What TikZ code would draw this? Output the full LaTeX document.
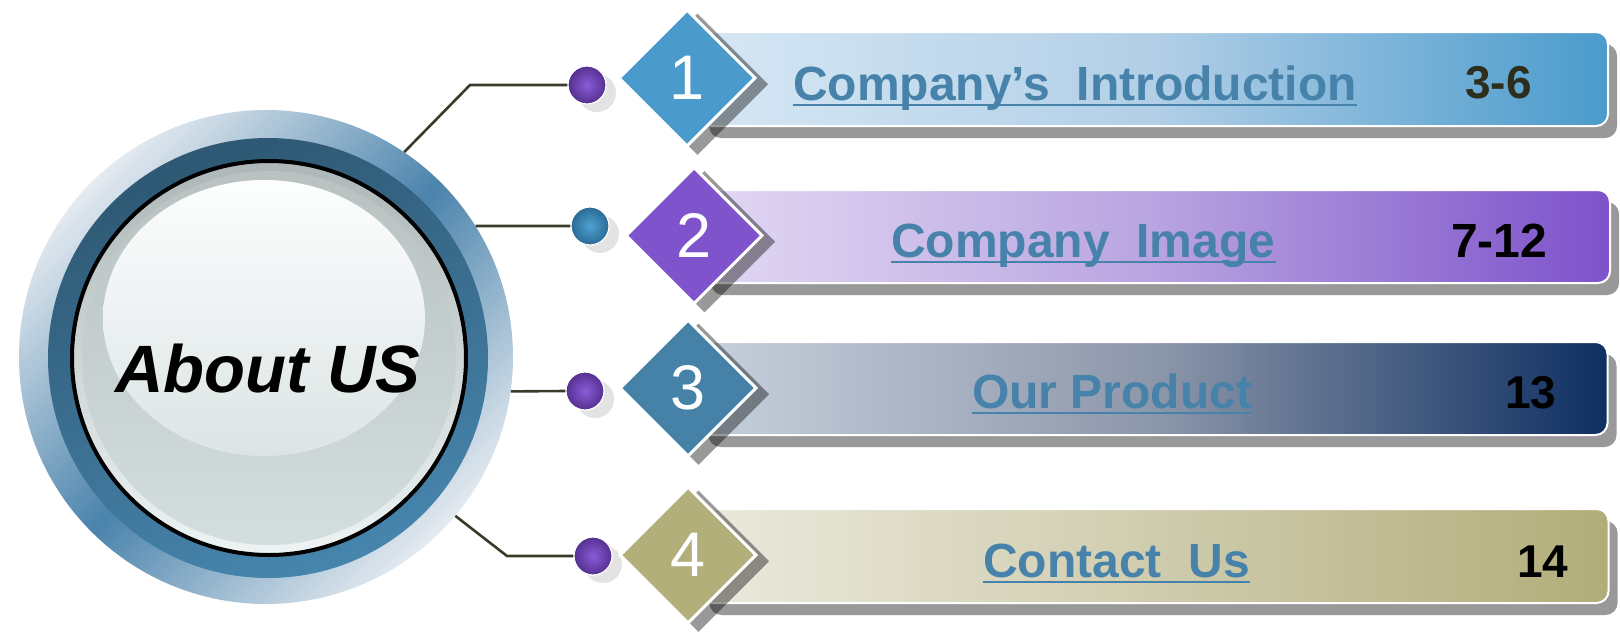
\documentclass[tikz,border=0pt]{standalone}
\usepackage{fontspec}
\setmainfont{Liberation Sans}
\usetikzlibrary{shapes.geometric,shadows}
\definecolor{tblue}{HTML}{4682A9}
\definecolor{conncol}{HTML}{3A3A28}
\definecolor{numdark}{HTML}{2E2E1C}
\definecolor{dA}{HTML}{4A9BCC}
\definecolor{dB}{HTML}{7F53CC}
\definecolor{dC}{HTML}{4682A8}
\definecolor{dD}{HTML}{B3AF7B}
\definecolor{pdotin}{HTML}{8A5BD8}
\definecolor{pdotout}{HTML}{55308F}
\definecolor{bdotin}{HTML}{4DA2D2}
\definecolor{bdotout}{HTML}{2A6A94}
\definecolor{hubl}{HTML}{E4EAF0}
\definecolor{hubm}{HTML}{4A83AC}
\definecolor{ringt}{HTML}{2E5873}
\definecolor{ringb}{HTML}{4785AD}
\definecolor{rimt}{HTML}{AEB7B7}
\definecolor{rimb}{HTML}{EEF3F3}
\definecolor{diskt}{HTML}{B9C1C1}
\definecolor{diskb}{HTML}{D3DEDE}
\definecolor{glosst}{HTML}{FDFEFE}
\definecolor{glossb}{HTML}{DCE4E4}
\definecolor{aL}{HTML}{D6E7F4}
\definecolor{aM}{HTML}{B2CFE7}
\definecolor{aR}{HTML}{4A9BCC}
\definecolor{bL}{HTML}{E2D8F3}
\definecolor{bM}{HTML}{B8A4E0}
\definecolor{bR}{HTML}{7D52CB}
\definecolor{cL}{HTML}{C6D1DD}
\definecolor{cM}{HTML}{8D97AA}
\definecolor{cR}{HTML}{0E2F62}
\definecolor{eL}{HTML}{EBE9DD}
\definecolor{eM}{HTML}{CFCCAE}
\definecolor{eR}{HTML}{B1AD7A}
\begin{document}
\begin{tikzpicture}[x=1pt,y=-1pt,
  conn/.style={draw=conncol,line width=2.6pt},
  boxstyle/.style={rectangle,rounded corners=12pt,draw=white,line width=2pt,
    minimum width=908pt,minimum height=94pt,inner sep=0pt,
    drop shadow={shadow xshift=9pt,shadow yshift=-12pt,fill=black,opacity=0.4}},
  diastyle/.style={diamond,aspect=1,minimum width=137pt,minimum height=137pt,inner sep=0pt,
    draw=white,line width=3pt,text=white,font=\fontsize{63}{63}\selectfont,
    drop shadow={shadow xshift=10pt,shadow yshift=-6pt,shadow scale=1.04,fill=black,opacity=0.4}},
  dotstyle/.style={circle,minimum size=38pt,inner sep=0pt,draw=white,line width=1.2pt,
    drop shadow={shadow xshift=10pt,shadow yshift=-8pt,fill=gray!22,opacity=1}},
  ttl/.style={anchor=base west,inner sep=0pt,text=tblue,font=\bfseries\fontsize{48}{50}\selectfont},
  pg/.style={anchor=base west,inner sep=0pt,font=\bfseries\fontsize{46}{50}\selectfont},
  uline/.style={draw=tblue,line width=2.6pt}]
\useasboundingbox (0,0) rectangle (1620,635);

% hub
\node[circle,minimum size=494pt,inner sep=0pt,top color=hubl,bottom color=hubl,
  middle color=hubm,shading angle=45] (hub) at (266,357) {};
\node[circle,minimum size=440pt,inner sep=0pt,top color=ringt,bottom color=ringb,
  shading angle=20] (ring) at (268,358) {};
\node[circle,minimum size=394pt,inner sep=0pt,draw=black,line width=4pt,top color=rimt,
  bottom color=rimb] (rim) at (269,358) {};
\node[circle,minimum size=374pt,inner sep=0pt,top color=diskt,bottom color=diskb] (disk) at (269,358) {};
\node[ellipse,minimum width=322pt,minimum height=276pt,inner sep=0pt,top color=glosst,
  bottom color=glossb] (gloss) at (264,318) {};
\node[inner sep=0pt,font=\bfseries\itshape\fontsize{67}{70}\selectfont] (about) at (268,369) {About US};

% dots
\node[dotstyle,inner color=pdotin,outer color=pdotout] (dot1) at (587,85) {};
\node[dotstyle,inner color=bdotin,outer color=bdotout] (dot2) at (590,226) {};
\node[dotstyle,inner color=pdotin,outer color=pdotout] (dot3) at (585,391) {};
\node[dotstyle,inner color=pdotin,outer color=pdotout] (dot4) at (593,556) {};

% connectors
\coordinate (bend1) at (470,85);
\coordinate (bend4) at (507,556);
\draw[conn] (hub.56) -- (bend1) -- (dot1.west);
\draw[conn] (hub.32) -- (dot2.west);
\draw[conn] (hub.-8) -- (dot3.west);
\draw[conn] (hub.-40) -- (bend4) -- (dot4.west);

% row 1
\node[boxstyle,left color=aL,right color=aR,middle color=aM] (box1) at (1154,79) {};
\node[diastyle,fill=dA] (d1) at (687,78) {1};
\node[ttl] (t1) at (793,100) {Company’s\ \ Introduction};
\draw[uline] ([yshift=-5pt]t1.base west) -- ([yshift=-5pt]t1.base east);
\node[pg,text=numdark] (p1) at (1465,98) {3-6};

% row 2
\node[boxstyle,minimum height=93pt,left color=bL,right color=bR,middle color=bM] (box2) at (1156,236.5) {};
\node[diastyle,fill=dB] (d2) at (694,235.5) {2};
\node[ttl] (t2) at (891,257) {Company\ \ Image};
\draw[uline] ([yshift=-5pt]t2.base west) -- ([yshift=-5pt]t2.base east);
\node[pg,font=\bfseries\fontsize{48}{50}\selectfont] (p2) at (1451,257) {7-12};

% row 3
\node[boxstyle,minimum height=93pt,left color=cL,right color=cR,middle color=cM] (box3) at (1153.5,388.5) {};
\node[diastyle,fill=dC] (d3) at (688,388) {3};
\node[ttl] (t3) at (972,408) {Our Product};
\draw[uline] ([yshift=-5pt]t3.base west) -- ([yshift=-5pt]t3.base east);
\node[pg] (p3) at (1505,408) {13};

% row 4
\node[boxstyle,left color=eL,right color=eR,middle color=eM] (box4) at (1154.5,556) {};
\node[diastyle,fill=dD] (d4) at (688,555) {4};
\node[ttl] (t4) at (983,577) {Contact\ \ Us};
\draw[uline] ([yshift=-5pt]t4.base west) -- ([yshift=-5pt]t4.base east);
\node[pg] (p4) at (1517,577) {14};
\end{tikzpicture}
\end{document}
